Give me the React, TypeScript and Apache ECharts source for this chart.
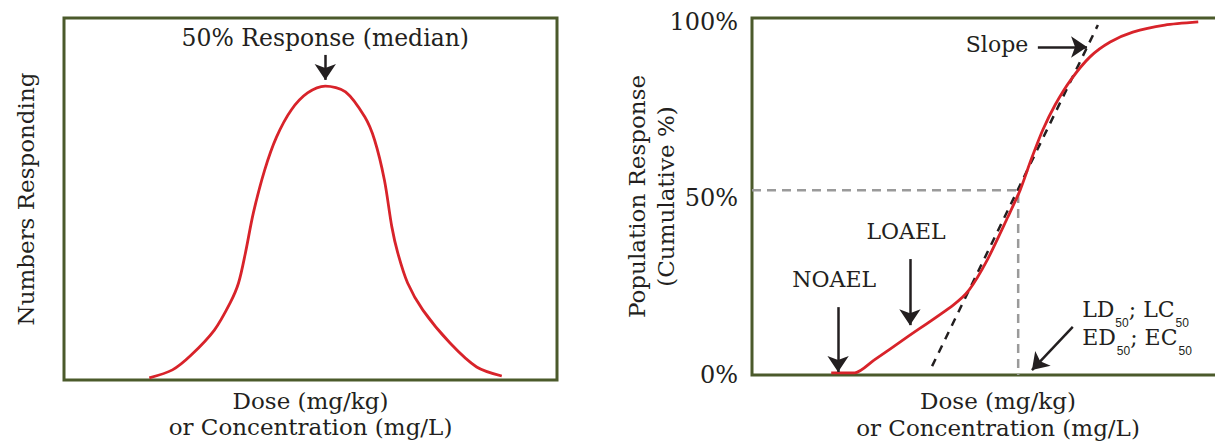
import React, { useEffect, useRef } from "react";
import * as echarts from "echarts";

// Left panel: frequency distribution (bell curve)
const bellDose = [17.3, 22.0, 25.8, 30.5, 33.7, 35.4, 36.8, 38.4, 40.7, 43.1, 46.1, 49.4, 53.0, 57.1, 61.0, 63.0, 65.0, 66.5, 67.7, 69.7, 72.8, 78.3, 83.7, 88.8];
const bellCount = [0.6, 2.8, 6.9, 13.8, 21.3, 26.8, 35.1, 46.1, 58.0, 67.1, 74.6, 79.3, 81.2, 79.6, 72.7, 66.3, 55.2, 42.3, 35.1, 26.8, 19.3, 10.2, 3.6, 1.1];

// Right panel: cumulative dose-response
const cumDose = [16.1, 20.9, 24.8, 31.3, 40.9, 44.1, 47.8, 52.0, 54.5, 56.7, 59.1, 61.6, 64.8, 68.7, 72.8, 77.4, 83.9, 90.7];
const cumResp = [0.6, 0.6, 4.2, 10.5, 19.8, 24.0, 32.5, 44.7, 52.3, 60.8, 69.3, 76.4, 83.5, 90.0, 94.2, 97.0, 99.0, 99.9];

// Tangent (slope) line end points
const slopeDose = [36.6, 70.3];
const slopeResp = [2.5, 99.0];

// Median (LD50) reference point
const medianDose = 54.1;
const medianResp = 52.3;

const yTicks = [0, 50, 100];

const FONT = "'DejaVu Serif', serif";
const INK = "#231f20";
const RED = "#d8232a";
const FRAME = "#4b5a2b";

export default function App() {
  const ref = useRef<HTMLDivElement>(null);
  useEffect(() => {
    const chart = echarts.init(ref.current!, null, { renderer: "svg" });
    const hidden = {
      axisLine: { show: false },
      axisTick: { show: false },
      splitLine: { show: false },
    };
    const arrowLine = { color: INK, width: 2.5, type: "solid" };
    const arrowSize = 16;
    const txt = (coord: number[], text: string, size = 22) => ({
      coord,
      symbol: "circle",
      symbolSize: 0,
      label: {
        show: true,
        position: "inside",
        formatter: text,
        fontFamily: FONT,
        fontSize: size,
        color: INK,
      },
    });
    const option = {
      animation: false,
      grid: [
        { left: 64, top: 18, width: 493, height: 362, show: true, borderColor: FRAME, borderWidth: 3, outerBoundsMode: "none", containLabel: false },
        { left: 752, top: 18, width: 492, height: 357, show: true, borderColor: FRAME, borderWidth: 3, outerBoundsMode: "none", containLabel: false },
      ],
      xAxis: [
        {
          gridIndex: 0, type: "value", min: 0, max: 100, ...hidden,
          axisLabel: { show: false },
          name: "Dose (mg/kg)\nor Concentration (mg/L)",
          nameLocation: "middle", nameGap: 8,
          nameTextStyle: { fontFamily: FONT, fontSize: 23, color: INK, lineHeight: 26 },
        },
        {
          gridIndex: 1, type: "value", min: 0, max: 100, ...hidden,
          axisLabel: { show: false },
          name: "Dose (mg/kg)\nor Concentration (mg/L)",
          nameLocation: "middle", nameGap: 12,
          nameTextStyle: { fontFamily: FONT, fontSize: 23, color: INK, lineHeight: 27 },
        },
      ],
      yAxis: [
        {
          gridIndex: 0, type: "value", min: 0, max: 100, ...hidden,
          axisLabel: { show: false },
          name: "Numbers Responding",
          nameLocation: "middle", nameGap: 27, nameRotate: 90,
          nameTextStyle: { fontFamily: FONT, fontSize: 23, color: INK },
        },
        {
          gridIndex: 1, type: "value", min: 0, max: 101, interval: 50, ...hidden,
          axisLabel: {
            show: true, margin: 14, showMaxLabel: false,
            fontFamily: FONT, fontSize: 24, color: INK,
            formatter: (v: number) => (yTicks.includes(v) ? v + "%" : ""),
          },
          name: "Population Response\n(Cumulative %)",
          nameLocation: "middle", nameGap: 72, nameRotate: 90, nameMoveOverlap: false,
          nameTextStyle: { fontFamily: FONT, fontSize: 23, color: INK, lineHeight: 29 },
        },
      ],
      series: [
        {
          type: "line", xAxisIndex: 0, yAxisIndex: 0, z: 3,
          data: bellDose.map((d, i) => [d, bellCount[i]]),
          smooth: 0.3, symbol: "none",
          lineStyle: { color: RED, width: 2.8 },
          markLine: {
            silent: true, symbol: ["none", "arrow"], symbolSize: arrowSize,
            lineStyle: arrowLine, label: { show: false },
            data: [[{ coord: [53, 89.8] }, { coord: [53, 82.9] }]],
          },
          markPoint: {
            silent: true,
            data: [txt([53, 94.5], "50% Response (median)", 23.5)],
          },
        },
        {
          type: "line", xAxisIndex: 1, yAxisIndex: 1, z: 2,
          data: [[0, medianResp], [medianDose, medianResp], [medianDose, 0]],
          symbol: "none",
          lineStyle: { color: "#9a9a9a", width: 2.5, type: [9, 6] },
        },
        {
          type: "line", xAxisIndex: 1, yAxisIndex: 1, z: 2,
          data: slopeDose.map((d, i) => [d, slopeResp[i]]),
          symbol: "none",
          lineStyle: { color: INK, width: 2.5, type: [8, 7] },
        },
        {
          type: "line", xAxisIndex: 1, yAxisIndex: 1, z: 3,
          data: cumDose.map((d, i) => [d, cumResp[i]]),
          smooth: 0.25, symbol: "none",
          lineStyle: { color: RED, width: 2.8 },
          markLine: {
            silent: true, symbol: ["none", "arrow"], symbolSize: arrowSize,
            lineStyle: arrowLine, label: { show: false },
            data: [
              [{ coord: [17.5, 19.2] }, { coord: [17.5, 0.85] }],
              [{ coord: [32.1, 32.8] }, { coord: [32.1, 14.1] }],
              [{ coord: [58.1, 92.8] }, { coord: [68.1, 92.8] }],
              [{ coord: [65.2, 13.6] }, { coord: [56.9, 1.4] }],
            ],
          },
          markPoint: {
            silent: true,
            data: [
              txt([16.7, 26.9], "NOAEL"),
              txt([31.3, 40.5], "LOAEL"),
              txt([49.8, 93.6], "Slope"),
              {
                coord: [67.1, 13.8],
                symbol: "circle",
                symbolSize: 0,
                label: {
                  show: true,
                  position: "inside",
                  align: "left",
                  verticalAlign: "middle",
                  formatter: "{m|LD}{s|50}{m|; LC}{s|50}\n{m|ED}{s|50}{m|; EC}{s|50}",
                  rich: {
                    m: { fontFamily: FONT, fontSize: 22, color: INK, lineHeight: 28, verticalAlign: "top" },
                    s: { fontFamily: "'Liberation Sans', Arial, sans-serif", fontSize: 12, color: INK, lineHeight: 4, padding: [19, 0, 0, 1], verticalAlign: "top" },
                  },
                },
              },
            ],
          },
        },
      ],
    };
    chart.setOption(option as any);
    return () => chart.dispose();
  }, []);
  return (
    <div
      ref={ref}
      style={{ position: "fixed", left: 0, top: 0, width: 1215, height: 444, background: "#fff" }}
    />
  );
}
